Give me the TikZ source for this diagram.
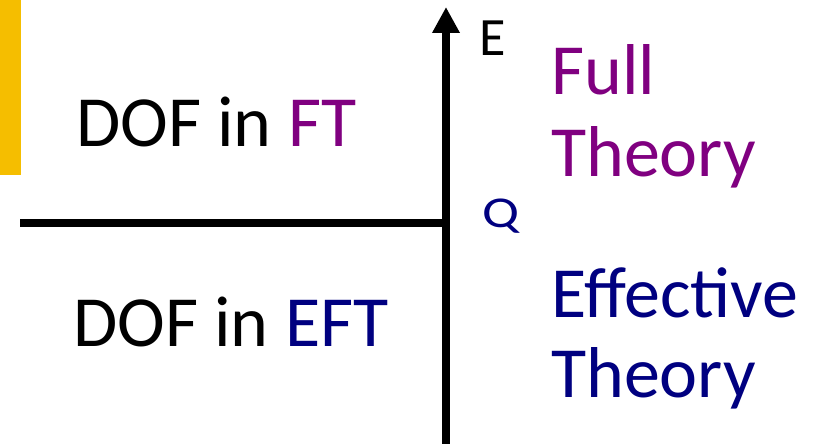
\documentclass[tikz,border=0pt]{standalone}
\usepackage{fontspec}
\usepackage{graphicx}
\setmainfont{Carlito}
\usetikzlibrary{arrows.meta}
\definecolor{barYellow}{HTML}{F5BE00}
\definecolor{fpurple}{HTML}{800080}
\definecolor{enavy}{HTML}{000080}
\begin{document}
\begin{tikzpicture}[x=1pt,y=-1pt,
  big/.style={font=\fontsize{72}{84}\selectfont, inner sep=0pt, anchor=base west},
  axis/.style={line width=8pt}]
\useasboundingbox (0,0) rectangle (825,444);
\fill[fill=barYellow] (0,0) rectangle (21,175);
\coordinate (bot) at (446,444);
\coordinate (top) at (446,7);
\coordinate (left) at (20,222.5);
\coordinate (mid) at (446,222.5);
\draw[axis,-{Triangle[width=26pt,length=26pt]}] (bot) -- (top);
\draw[axis] (left) -- (mid);
\node[big] (dofft) at (76,146) {DOF in \textcolor{fpurple}{FT}};
\node[big] (dofeft) at (73,346) {DOF in \textcolor{enavy}{EFT}};
\node[big, text=fpurple] (full) at (551,95) {Full};
\node[big, text=fpurple] (theory1) at (551,176) {Theory};
\node[big, text=enavy] (eff) at (551,317) {Effective};
\node[big, text=enavy] (theory2) at (551,397) {Theory};
\node[font=\fontsize{54}{60}\selectfont, inner sep=0pt, anchor=base west] (E) at (479,55.5) {E};
\node[font=\fontsize{44}{50}\selectfont, inner sep=0pt, anchor=base west, text=enavy] (Q) at (482,227) {\scalebox{1.25}[1.0]{Q}};
\end{tikzpicture}
\end{document}
